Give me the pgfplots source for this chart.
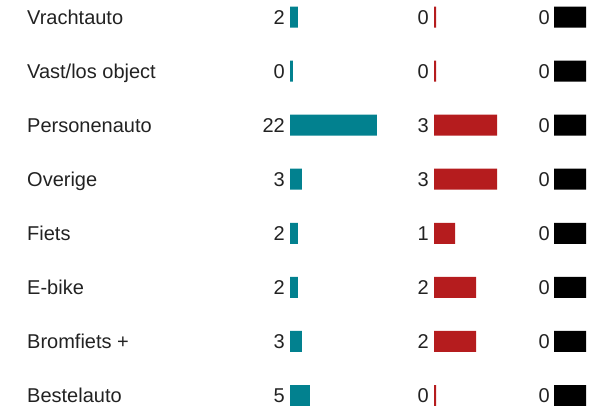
\documentclass[border=0pt]{standalone}
\usepackage{pgfplots}
\usepackage{pgfplotstable}
\pgfplotsset{compat=1.18}
\usepackage{fontspec}
\setmainfont{Liberation Sans}
\definecolor{tealbar}{HTML}{02818F}
\definecolor{redbar}{HTML}{B51C1E}
\definecolor{txt}{HTML}{222222}
\pgfplotstableread[col sep=comma]{
row,name,teal,red,black
0,Vrachtauto,2,0,0
1,Vast/los object,0,0,0
2,Personenauto,22,3,0
3,Overige,3,3,0
4,Fiets,2,1,0
5,E-bike,2,2,0
6,Bromfiets +,3,2,0
7,Bestelauto,5,0,0
}\datatable
\pgfplotsset{
  rowaxis/.style={
    scale only axis, height=406bp, anchor=south west,
    ymin=-0.3144, ymax=7.194, y dir=reverse,
    axis line style={draw=none}, tick style={draw=none},
    major tick length=0pt,
    xtick=\empty, ytick={0,...,7},
    xbar, bar width=21bp, bar shift=0pt,
    yticklabel style={font=\fontsize{20bp}{23bp}\selectfont, text=txt,
      inner sep=0pt, text height=14.3bp, text depth=0pt},
    /pgf/number format/assume math mode=true,
  },
}
\begin{document}
\begin{tikzpicture}
\path[use as bounding box] (0,0) rectangle (595bp,406bp);
% category names
\begin{axis}[rowaxis, at={(27bp,0)}, width=10bp, xmin=0, xmax=1,
  yticklabels from table={\datatable}{name},
  yticklabel style={anchor=west}]
  \addplot[draw=none, fill=none] table[x=black, y=row] {\datatable};
\end{axis}
% first column (teal)
\begin{axis}[rowaxis, at={(290bp,0)}, width=86.9bp, xmin=0, xmax=22,
  yticklabels from table={\datatable}{teal},
  yticklabel style={anchor=east, xshift=-5bp}]
  \addplot[fill=tealbar, draw=none] table[x expr={max(\thisrow{teal},0.75)}, y=row] {\datatable};
\end{axis}
% second column (red)
\begin{axis}[rowaxis, at={(434bp,0)}, width=63bp, xmin=0, xmax=3,
  yticklabels from table={\datatable}{red},
  yticklabel style={anchor=east, xshift=-5bp}]
  \addplot[fill=redbar, draw=none] table[x expr={max(\thisrow{red},0.1)}, y=row] {\datatable};
\end{axis}
% third column (black)
\begin{axis}[rowaxis, at={(554bp,0)}, width=32bp, xmin=0, xmax=1,
  yticklabels from table={\datatable}{black},
  yticklabel style={anchor=east, xshift=-4bp}]
  \addplot[fill=black, draw=none] table[x expr={max(\thisrow{black},1)}, y=row] {\datatable};
\end{axis}
\end{tikzpicture}
\end{document}
